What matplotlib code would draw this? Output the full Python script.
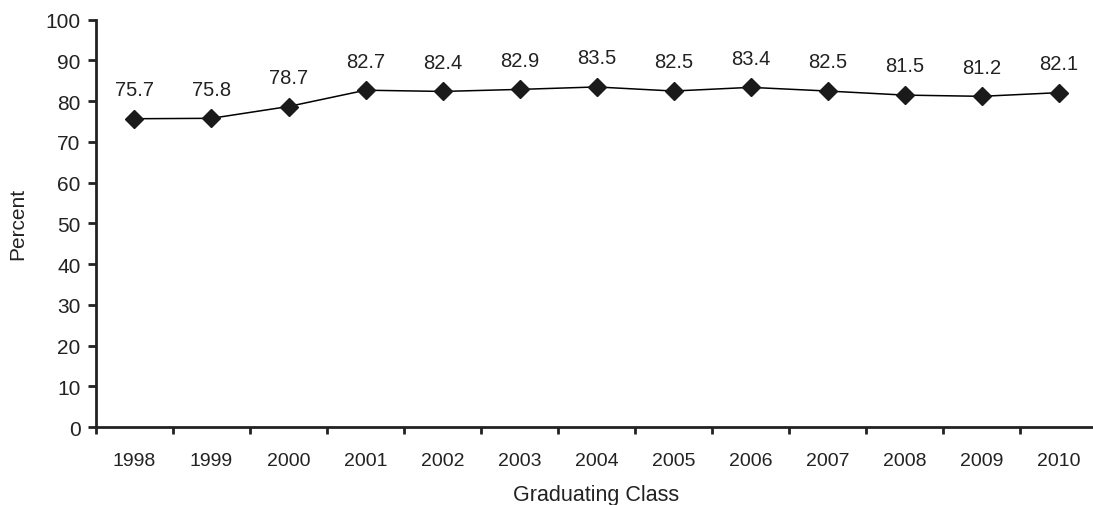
import matplotlib
matplotlib.use("Agg")
import matplotlib.pyplot as plt
import numpy as np

plt.rcParams['font.family'] = ['Liberation Sans', 'DejaVu Sans']

years = ["1998", "1999", "2000", "2001", "2002", "2003", "2004",
         "2005", "2006", "2007", "2008", "2009", "2010"]
percent = [75.7, 75.8, 78.7, 82.7, 82.4, 82.9, 83.5,
           82.5, 83.4, 82.5, 81.5, 81.2, 82.1]

fig = plt.figure(figsize=(10.93, 5.06), dpi=100)
ax = fig.add_axes([0.0878, 0.154, 0.916, 0.805])

x = np.arange(len(years))
ax.plot(x, percent, color="black", linewidth=1.1, marker="D",
        markersize=9, markerfacecolor="#1a1a1a", markeredgecolor="#1a1a1a")

for xi, v in zip(x, percent):
    ax.annotate(f"{v:.1f}", (xi, v), xytext=(0, 21), textcoords="offset points",
                ha="center", va="center", fontsize=14.5, color="#222222")

ax.set_xlim(-0.5, len(years) - 0.5)
ax.set_ylim(0, 100)
ax.set_yticks(range(0, 101, 10))
ax.set_xticks(x)
ax.set_xticklabels(years)
ax.set_xticks(np.arange(-0.5, len(years) - 1, 1), minor=True)

ax.tick_params(axis="x", which="major", length=0, pad=18, labelsize=14, colors="#222222")
ax.tick_params(axis="x", which="minor", length=5, width=2, direction="out", color="#222222")
ax.tick_params(axis="y", length=6, width=2, direction="out", labelsize=15,
               pad=5, colors="#222222")

for s in ["top", "right"]:
    ax.spines[s].set_visible(False)
for s in ["left", "bottom"]:
    ax.spines[s].set_linewidth(2)
    ax.spines[s].set_color("#222222")

ax.set_ylabel("Percent", fontsize=15, color="#222222")
ax.yaxis.set_label_coords(-0.069, 0.5)
ax.set_xlabel("Graduating Class", fontsize=15.5, color="#222222", labelpad=11)

fig.savefig("out.png", dpi=100)
